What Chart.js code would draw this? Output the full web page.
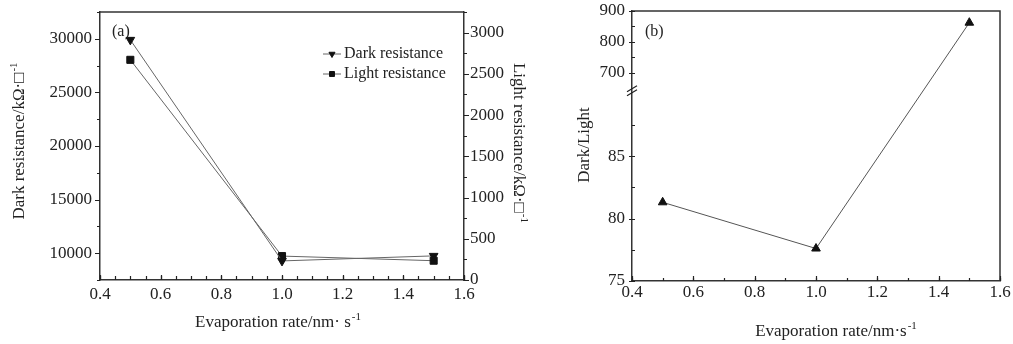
<!DOCTYPE html>
<html>
<head>
<meta charset="utf-8">
<script src="https://cdn.jsdelivr.net/npm/chart.js@4/dist/chart.umd.min.js"></script>
<style>
  body { margin: 0; background: #fff; }
  #wrapA { position: absolute; left: 0; top: 0; width: 550px; height: 344px; }
  #wrapB { position: absolute; left: 550px; top: 0; width: 463px; height: 344px; }
</style>
</head>
<body>
<div id="wrapA"><canvas id="chartA"></canvas></div>
<div id="wrapB"><canvas id="chartB"></canvas></div>
<script>
// evaporation rate (nm/s)
const rate = [0.5, 1.0, 1.5];
// panel (a)
const darkRes = [29900, 9280, 9750];   // kOhm/sq, left axis
const lightRes = [2670, 290, 234];     // kOhm/sq, right axis
// panel (b)
const ratio = [81.3, 77.6, 862];

const rateTicks = [0.4, 0.6, 0.8, 1.0, 1.2, 1.4, 1.6];
const darkTicks = [10000, 15000, 20000, 25000, 30000];
const lightTicks = [0, 500, 1000, 1500, 2000, 2500, 3000];
const ratioTicks = [75, 80, 85, 700, 800, 900];

const SERIF = '"Liberation Serif", "Times New Roman", serif';
const INK = '#222';

function range(a, b, step) {
  const out = [];
  for (let v = a; v <= b + step / 1000; v += step) out.push(+v.toFixed(4));
  return out;
}

// linear axis with a break between two value ranges
class BrokenScale extends Chart.LinearScale {
  static id = 'broken';
  static defaults = Chart.LinearScale.defaults;
  _dec(v) {
    const [lo, hi] = this.options.breakAt;
    const [f1, f2] = this.options.breakFrac;
    if (v <= lo) return (v - this.min) / (lo - this.min) * f1;
    if (v >= hi) return f2 + (v - hi) / (this.max - hi) * (1 - f2);
    return f1 + (v - lo) / (hi - lo) * (f2 - f1);
  }
  getPixelForValue(v) {
    if (v === null || v === undefined) return NaN;
    return this.getPixelForDecimal(this._dec(v));
  }
  getValueForPixel(p) {
    const d = this.getDecimalForPixel(p);
    const [lo, hi] = this.options.breakAt;
    const [f1, f2] = this.options.breakFrac;
    if (d <= f1) return this.min + d / f1 * (lo - this.min);
    if (d >= f2) return hi + (d - f2) / (1 - f2) * (this.max - hi);
    return lo + (d - f1) / (f2 - f1) * (hi - lo);
  }
}
Chart.register(BrokenScale);

function fixTicks(values) {
  return s => { s.ticks = values.map(v => ({ value: v })); };
}

function markTicks(chart, id, values, a, b) {
  const s = chart.scales[id], ca = chart.chartArea, ctx = chart.ctx;
  ctx.save();
  ctx.strokeStyle = INK;
  ctx.lineWidth = 1.2;
  ctx.beginPath();
  values.forEach(v => {
    const p = Math.round(s.getPixelForValue(v)) + 0.5;
    if (s.isHorizontal()) {
      ctx.moveTo(p, ca.bottom - a); ctx.lineTo(p, ca.bottom - b);
    } else if (s.position === 'left') {
      ctx.moveTo(ca.left + a, p); ctx.lineTo(ca.left + b, p);
    } else {
      ctx.moveTo(ca.right - a, p); ctx.lineTo(ca.right - b, p);
    }
  });
  ctx.stroke();
  ctx.restore();
}

function richText(ctx, x, y, rot, main, sup, size) {
  ctx.save();
  ctx.translate(x, y);
  ctx.rotate(rot);
  ctx.fillStyle = INK;
  ctx.textBaseline = 'middle';
  ctx.textAlign = 'left';
  const big = size + 'px ' + SERIF;
  const small = Math.round(size * 0.62) + 'px ' + SERIF;
  ctx.font = big;
  const w1 = ctx.measureText(main).width;
  ctx.font = small;
  const w2 = sup ? ctx.measureText(sup).width + 1 : 0;
  const sx = -(w1 + w2) / 2;
  ctx.font = big;
  ctx.fillText(main, sx, 0);
  if (sup) {
    ctx.font = small;
    ctx.fillText(sup, sx + w1 + 1, -size * 0.36);
  }
  ctx.restore();
}

function frameTop(chart, withRight) {
  const ctx = chart.ctx, ca = chart.chartArea;
  ctx.save();
  ctx.strokeStyle = '#333';
  ctx.lineWidth = 1.5;
  ctx.beginPath();
  ctx.moveTo(ca.left, ca.top);
  ctx.lineTo(ca.right, ca.top);
  if (withRight) ctx.lineTo(ca.right, ca.bottom);
  ctx.stroke();
  ctx.restore();
}

const tickFont = { family: SERIF, size: 17 };
const plain = v => String(v);

// ---------- panel (a) ----------
const panelA = {
  id: 'panelA',
  afterDraw(chart) {
    const ctx = chart.ctx;
    frameTop(chart, false);
    markTicks(chart, 'x', range(0.4, 1.6, 0.05), 0, 4);
    markTicks(chart, 'x', rateTicks, 0, 5);
    markTicks(chart, 'yDark', range(7500, 32500, 2500), 0, -3);
    markTicks(chart, 'yDark', darkTicks, 0, -5);
    markTicks(chart, 'yLight', range(0, 3250, 250), 0, -3);
    markTicks(chart, 'yLight', lightTicks, 0, -5);

    // legend
    chart.data.datasets.forEach((ds, i) => {
      const x0 = 323, y = 54 + i * 20;
      ctx.save();
      ctx.strokeStyle = ds.borderColor;
      ctx.lineWidth = 1;
      ctx.beginPath();
      ctx.moveTo(x0, y); ctx.lineTo(x0 + 18, y);
      ctx.stroke();
      ctx.fillStyle = ds.pointBackgroundColor;
      ctx.strokeStyle = ds.pointBorderColor;
      Chart.helpers.drawPoint(ctx, {
        pointStyle: ds.pointStyle, radius: ds.pointRadius - 1.5,
        rotation: ds.pointRotation || 0, borderWidth: 1
      }, x0 + 9, y);
      ctx.fillStyle = INK;
      ctx.font = '16px ' + SERIF;
      ctx.textBaseline = 'middle';
      ctx.fillText(ds.label, x0 + 21, y);
      ctx.restore();
    });

    ctx.save();
    ctx.fillStyle = INK;
    ctx.font = '16px ' + SERIF;
    ctx.textBaseline = 'middle';
    ctx.fillText('(a)', 112, 32);
    ctx.restore();

    richText(ctx, 20, 141, -Math.PI / 2, 'Dark resistance/k\u03A9\u00B7\u25A1', '-1', 17);
    richText(ctx, 518, 143, Math.PI / 2, 'Light resistance/k\u03A9\u00B7\u25A1', '-1', 17);
    richText(ctx, 278, 323, 0, 'Evaporation rate/nm\u00B7 s', '-1', 17);
  }
};

new Chart(document.getElementById('chartA'), {
  type: 'line',
  data: {
    datasets: [{
      label: 'Dark resistance',
      data: rate.map((x, i) => ({ x, y: darkRes[i] })),
      yAxisID: 'yDark',
      borderColor: '#666',
      borderWidth: 1,
      pointStyle: 'triangle',
      pointRotation: 180,
      pointRadius: 5,
      pointBackgroundColor: '#111',
      pointBorderColor: '#111',
      tension: 0
    }, {
      label: 'Light resistance',
      data: rate.map((x, i) => ({ x, y: lightRes[i] })),
      yAxisID: 'yLight',
      borderColor: '#666',
      borderWidth: 1,
      pointStyle: 'rect',
      pointRadius: 5,
      pointBackgroundColor: '#111',
      pointBorderColor: '#111',
      tension: 0
    }]
  },
  options: {
    responsive: true,
    maintainAspectRatio: false,
    animation: false,
    layout: { padding: { top: 12, left: 0, right: 0, bottom: 0 } },
    plugins: { legend: { display: false }, tooltip: { enabled: false } },
    scales: {
      x: {
        type: 'linear', min: 0.4, max: 1.6,
        grid: { display: false, drawTicks: false },
        border: { color: '#333', width: 1.5 },
        ticks: { font: tickFont, color: INK, padding: 4, autoSkip: false, maxRotation: 0,
                 callback: v => v.toFixed(1) },
        afterBuildTicks: fixTicks(rateTicks),
        afterFit: s => { s.height = 64; s.paddingLeft = 0; s.paddingRight = 0; }
      },
      yDark: {
        type: 'linear', position: 'left', min: 7500, max: 32500,
        grid: { display: false, drawTicks: false },
        border: { color: '#333', width: 1.5 },
        ticks: { font: tickFont, color: INK, padding: 8, autoSkip: false, callback: plain },
        afterBuildTicks: fixTicks(darkTicks),
        afterFit: s => { s.width = 100; s.paddingTop = 0; s.paddingBottom = 0; }
      },
      yLight: {
        type: 'linear', position: 'right', min: 0, max: 3250,
        grid: { display: false, drawTicks: false },
        border: { color: '#333', width: 1.5 },
        ticks: { font: tickFont, color: INK, padding: 6, autoSkip: false, callback: plain },
        afterBuildTicks: fixTicks(lightTicks),
        afterFit: s => { s.width = 86; s.paddingTop = 0; s.paddingBottom = 0; }
      }
    }
  },
  plugins: [panelA]
});

// ---------- panel (b) ----------
const panelB = {
  id: 'panelB',
  afterDraw(chart) {
    const ctx = chart.ctx, ca = chart.chartArea;
    frameTop(chart, true);
    markTicks(chart, 'x', range(0.4, 1.6, 0.1), 0, 3);
    markTicks(chart, 'x', rateTicks, 0, 5);
    markTicks(chart, 'y', [77.5, 82.5, 87.5, 750, 850], 0, 3);
    markTicks(chart, 'y', ratioTicks, -3, 3);

    // break mark on the y axis
    const s = chart.scales.y;
    const yb = (s.getPixelForValue(s.options.breakAt[0]) + s.getPixelForValue(s.options.breakAt[1])) / 2;
    ctx.save();
    ctx.strokeStyle = INK;
    ctx.lineWidth = 1.2;
    ctx.beginPath();
    [-2, 2].forEach(d => {
      ctx.moveTo(ca.left - 5, yb + d + 3);
      ctx.lineTo(ca.left + 5, yb + d - 3);
    });
    ctx.stroke();

    ctx.fillStyle = INK;
    ctx.font = '16px ' + SERIF;
    ctx.textBaseline = 'middle';
    ctx.fillText('(b)', 95, 32);
    ctx.restore();

    richText(ctx, 35, 145, -Math.PI / 2, 'Dark/Light', '', 17);
    richText(ctx, 286, 332, 0, 'Evaporation rate/nm\u00B7s', '-1', 17);
  }
};

new Chart(document.getElementById('chartB'), {
  type: 'line',
  data: {
    datasets: [{
      label: 'Dark/Light',
      data: rate.map((x, i) => ({ x, y: ratio[i] })),
      borderColor: '#555',
      borderWidth: 1,
      pointStyle: 'triangle',
      pointRadius: 5,
      pointBackgroundColor: '#111',
      pointBorderColor: '#111',
      tension: 0
    }]
  },
  options: {
    responsive: true,
    maintainAspectRatio: false,
    animation: false,
    layout: { padding: { top: 11, left: 0, right: 13, bottom: 0 } },
    plugins: { legend: { display: false }, tooltip: { enabled: false } },
    scales: {
      x: {
        type: 'linear', min: 0.4, max: 1.6,
        grid: { display: false, drawTicks: false },
        border: { color: '#333', width: 1.5 },
        ticks: { font: tickFont, color: INK, padding: 1, autoSkip: false, maxRotation: 0,
                 callback: v => v.toFixed(1) },
        afterBuildTicks: fixTicks(rateTicks),
        afterFit: s => { s.height = 63; s.paddingLeft = 0; s.paddingRight = 0; }
      },
      y: {
        type: 'broken', position: 'left', min: 75, max: 900,
        breakAt: [90, 650], breakFrac: [0.694, 0.715],
        grid: { display: false, drawTicks: false },
        border: { color: '#333', width: 1.5 },
        ticks: { font: tickFont, color: INK, padding: 7, autoSkip: false, callback: plain },
        afterBuildTicks: fixTicks(ratioTicks),
        afterFit: s => { s.width = 82; s.paddingTop = 0; s.paddingBottom = 0; }
      }
    }
  },
  plugins: [panelB]
});
</script>
</body>
</html>
